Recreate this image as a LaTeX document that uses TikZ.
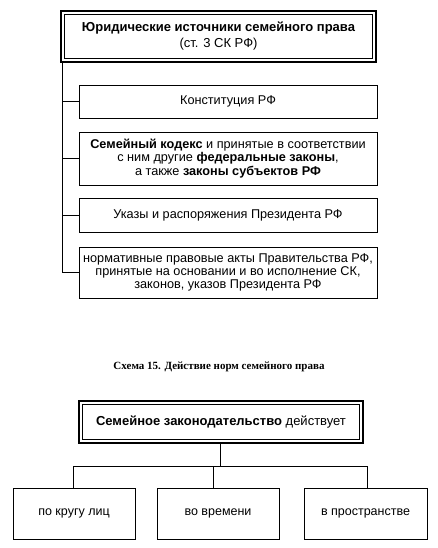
\documentclass[tikz,border=0pt]{standalone}
\usepackage{fontspec}
\setmainfont{Liberation Sans}
\newfontfamily\capfont{Liberation Serif}
\usepackage{tikz}

\tikzset{
	kasten/.style = {draw, line width=0.8pt, align=center, inner sep=0pt, font={\fontsize{12.7}{13.3}\selectfont}},
	ramka/.style = {draw, line width=2.4pt, align=center, inner sep=0pt,
		path picture={\draw[line width=0.6pt] ([shift={(3.5pt,-3.5pt)}]path picture bounding box.north west) rectangle ([shift={(-3.5pt,3.5pt)}]path picture bounding box.south east);}},
	linie/.style = {line width=0.8pt}
}

\begin{document}
\begin{tikzpicture}[x=1pt, y=-1pt]
	\useasboundingbox (0,0) rectangle (437,548);
	
	%Quellen
	\node[ramka, minimum width=315pt, minimum height=51pt, font={\fontsize{13}{16}\selectfont}] (quellen) at (218.5,36.5)
		{\textbf{Юридические источники семейного права}\\(ст. 3 СК РФ)};
	\node[kasten, minimum width=298pt, minimum height=33pt] (konst) at (228,101.5) {Конституция РФ};
	\node[kasten, minimum width=298pt, minimum height=53pt] (sk) at (228,158.5)
		{\textbf{Семейный кодекс} и принятые в соответствии\\с ним другие \textbf{федеральные законы},\\а также \textbf{законы субъектов РФ}};
	\node[kasten, minimum width=298pt, minimum height=34pt] (ukazy) at (228,215) {Указы и распоряжения Президента РФ};
	\node[kasten, minimum width=298pt, minimum height=51pt] (akty) at (228,272.5)
		{нормативные правовые акты Правительства РФ,\\принятые на основании и во исполнение СК,\\законов, указов Президента РФ};
	
	%Stamm links
	\coordinate (stamm) at (62,62);
	\foreach \b in {konst,sk,ukazy,akty}
		\draw[linie] (stamm) |- (\b.west);
	
	%Schema 15
	\node[font={\capfont\bfseries\fontsize{11}{12}\selectfont}] (schema) at (219,367) {Схема 15. Действие норм семейного права};
	
	\node[ramka, minimum width=284pt, minimum height=42pt, font={\fontsize{13}{14}\selectfont}] (zakon) at (221,422)
		{\textbf{Семейное законодательство} действует};
	\node[kasten, minimum width=122pt, minimum height=51pt, font={\fontsize{12.5}{14}\selectfont}] (krug) at (74,513.5) {по кругу лиц};
	\node[kasten, minimum width=122pt, minimum height=51pt, font={\fontsize{12.5}{14}\selectfont}] (vremya) at (218,513.5) {во времени};
	\node[kasten, minimum width=123pt, minimum height=51pt, font={\fontsize{12.5}{14}\selectfont}] (prostr) at (365.5,513.5) {в пространстве};
	
	%Verzweigung
	\coordinate (v1) at (73,466);
	\coordinate (v2) at (213,466);
	\coordinate (v3) at (367,466);
	\draw[linie] (zakon.south -| 220,0) -- (220,466);
	\draw[linie] (v1) -- (v3);
	\foreach \v/\b in {v1/krug,v2/vremya,v3/prostr}
		\draw[linie] (\v) -- (\v |- \b.north);
\end{tikzpicture}
\end{document}
